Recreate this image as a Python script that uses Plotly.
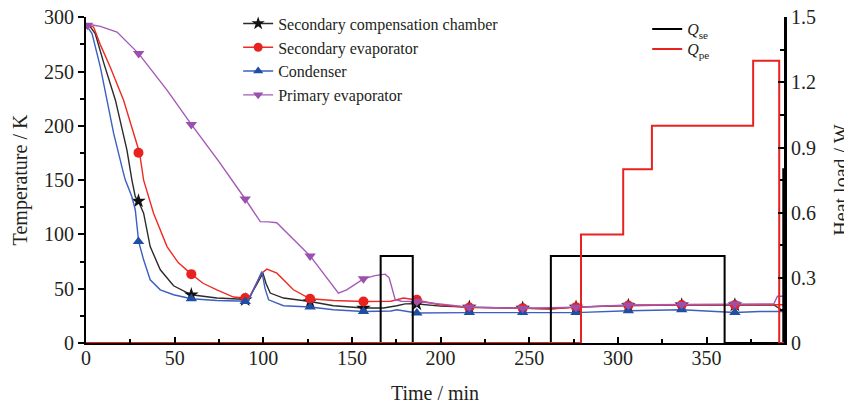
import plotly.graph_objects as go

# ---------------- data ----------------
# Secondary compensation chamber (line)
scc_t = [0, 2, 5.2, 10, 16.6, 20, 23.1, 25.9, 27.8, 29.5, 32.5, 36.2, 41.9, 49.4, 59.4, 73.8, 89.8, 91.5, 99.8, 101.5,
         103.9, 111.4, 126.4, 139.6, 156.5, 167.8, 175.3, 180, 185.6, 200, 216.2, 246.3, 262, 276.4, 305.9, 336, 366,
         388, 393.7]
scc_T = [293, 292, 285, 258, 223.6, 200, 177.7, 150, 134.7, 130.7, 119.5, 88.8, 67.4, 52.7, 44.4, 41.4, 39.8, 40, 64.3, 55,
         46, 41.4, 38.2, 34.3, 32.2, 32.2, 34.3, 36, 36.1, 34, 33, 32, 31.5, 33, 34.5, 35, 35, 35, 29]

# Secondary evaporator (line)
se_t = [0, 4.3, 8, 13.7, 21.2, 26.8, 30.2, 32.5, 38.1, 45.7, 52, 59.4, 66, 73.8, 83.2, 89.8, 92, 99, 102, 107.7, 117,
        126.4, 139.6, 156.5, 167.8, 172, 179, 185.6, 200, 216.2, 246.3, 261.7, 276.4, 305.9, 336, 366, 393.7]
se_T = [293, 291, 275, 254, 223.6, 193, 175.2, 150, 119.5, 88.8, 74, 63.4, 55, 49, 42.3, 41.4, 41.5, 64, 68, 64.3, 49,
        40.7, 39.2, 38.2, 38.2, 38.5, 41.4, 39.8, 35, 32.7, 32.1, 31.2, 33, 34.6, 35, 35, 35.2]

# Condenser (line)
cd_t = [0, 3.4, 8.1, 15.6, 21.2, 22.2, 25.9, 27.8, 29.7, 32.5, 36.2, 41.9, 49.4, 59.4, 73.8, 89.8, 91.5, 99.2, 101,
        103, 111.4, 126.4, 139.6, 156.5, 167.8, 172, 175.3, 180, 186.6, 216.2, 246.3, 276.4, 305.9, 336, 366, 380, 393.7]
cd_T = [293, 285, 254, 193, 156, 150, 134.7, 122.5, 93.4, 76.6, 58.2, 49, 44.4, 40.7, 39.2, 38.2, 38.5, 65.8, 50,
        39.8, 34.3, 33.1, 30.6, 29, 29, 29.5, 30.6, 29.5, 27.6, 28, 28, 28, 29.7, 30.6, 28.1, 29, 29]

# Primary evaporator (line)
pe_t = [0, 3, 8.1, 17.5, 29.7, 45.7, 59.4, 75, 89.8, 98.3, 103, 107.6, 126.4, 138, 142.4, 147, 156.5, 163, 168.7, 171,
        174.4, 178, 186.6, 216.2, 246.3, 276.4, 305.9, 336, 366, 388, 390, 393.7]
pe_T = [293, 293, 291.6, 286.4, 266.5, 232.8, 201.3, 167, 132.6, 111.8, 111.5, 110.8, 80.2, 55, 46, 49, 59.1, 62, 63.4,
        60, 39.8, 38.5, 38.2, 33, 32, 33, 35, 35.5, 36, 36, 43, 43]

# marker positions
mk_t = [29.6, 59.4, 89.8, 126.4, 156.5, 186.6, 216.2, 246.3, 276.4, 305.9, 336, 366]
scc_mT = [130.7, 44.4, 39.8, 38.2, 32.2, 36, 33, 32, 33, 34.5, 35, 35]
se_mT = [175.2, 63.4, 41.4, 40.7, 38.2, 39.8, 32.7, 32.1, 33, 34.6, 35, 35]
cd_mT = [93.4, 40.7, 38.2, 33.1, 29, 27.6, 28, 28, 28, 29.7, 30.6, 28.1]
pe_mk_t = [0.9, 29.7, 59.4, 89.8, 126.4, 156.5, 186.6, 216.2, 246.3, 276.4, 305.9, 336, 366]
pe_mT = [292.5, 266.5, 201.3, 132.6, 80.2, 59.1, 38.2, 33, 32, 33, 35, 35.5, 36]

# heat loads (step)
qse_t = [0, 166.2, 184.3, 262.2, 360.2, 393.3, 393.7]
qse_W = [0, 0.4, 0, 0.4, 0, 0.8, 0.8]
qpe_t = [0, 279.2, 303.0, 319.2, 376.3, 391.0, 393.7]
qpe_W = [0, 0.5, 0.8, 1.0, 1.3, 0, 0]

names = ["Secondary compensation chamber", "Secondary evaporator", "Condenser", "Primary evaporator"]

# ---------------- styling ----------------
FONT = "Liberation Serif"
TXT = "#231f20"
c_black, c_red, c_blue, c_purple = "#2b2b2b", "#ee2a24", "#3b5fc2", "#a45ab8"
mc_black, mc_red, mc_blue, mc_purple = "#111111", "#e8231f", "#1f4fa3", "#9b4fae"

fig = go.Figure()

series = [
    (scc_t, scc_T, mk_t, scc_mT, c_black, mc_black, "star", 11),
    (se_t, se_T, mk_t, se_mT, c_red, mc_red, "circle", 10),
    (cd_t, cd_T, mk_t, cd_mT, c_blue, mc_blue, "triangle-up", 10),
    (pe_t, pe_T, pe_mk_t, pe_mT, c_purple, mc_purple, "triangle-down", 10),
]

for name, (lt, lT, mt, mT, lc, mc, sym, ms) in zip(names, series):
    fig.add_trace(go.Scatter(x=lt, y=lT, mode="lines", line=dict(color=lc, width=1.4),
                             showlegend=False, hoverinfo="skip"))
    fig.add_trace(go.Scatter(x=mt, y=mT, mode="markers", marker=dict(symbol=sym, size=ms, color=mc),
                             showlegend=False))
    fig.add_trace(go.Scatter(x=[None], y=[None], mode="lines+markers", name=name,
                             line=dict(color=lc, width=1.4), marker=dict(symbol=sym, size=ms - 1, color=mc),
                             legend="legend"))

fig.add_trace(go.Scatter(x=qse_t, y=qse_W, mode="lines", line=dict(color="#000000", width=2, shape="hv"),
                         name="<i>Q</i><sub>se</sub>", yaxis="y2", legend="legend2"))
fig.add_trace(go.Scatter(x=qpe_t, y=qpe_W, mode="lines", line=dict(color="#e8231f", width=2, shape="hv"),
                         name="<i>Q</i><sub>pe</sub>", yaxis="y2", legend="legend3"))

axis_common = dict(showgrid=False, zeroline=False, linecolor="#000000", tickcolor="#000000",
                   ticklabeloverflow="allow",
                   tickfont=dict(family=FONT, size=20, color=TXT))

# the page body has an 8 px margin, so the figure is 8 px smaller and margins shifted
fig.update_layout(
    width=844, height=396,
    margin=dict(l=78, r=68, t=9, b=61, autoexpand=False),
    paper_bgcolor="white", plot_bgcolor="white",
    font=dict(family=FONT, color=TXT),
    xaxis=dict(range=[0, 393.7], dtick=50, tick0=0, ticks="inside", ticklen=6, tickwidth=1.5,
               showline=True, linewidth=2, ticklabelstandoff=-4,
               minor=dict(ticks="inside", dtick=25, ticklen=4, tickwidth=1.5, tickcolor="#000000"),
               title=dict(text="Time / min", font=dict(family=FONT, size=20, color=TXT), standoff=19),
               **axis_common),
    yaxis=dict(range=[0, 300.2], dtick=50, tick0=0, ticks="outside", ticklen=6, tickwidth=1.5,
               showline=True, linewidth=2,
               minor=dict(ticks="outside", dtick=25, ticklen=4, tickwidth=1.5, tickcolor="#000000"),
               title=dict(text="Temperature / K", font=dict(family=FONT, size=20, color=TXT), standoff=11),
               **axis_common),
    yaxis2=dict(range=[0, 1.501], dtick=0.3, tick0=0, ticks="inside", ticklen=6, tickwidth=1.5,
                overlaying="y", side="right", showline=True, linewidth=3,
                minor=dict(ticks="inside", dtick=0.15, ticklen=4, tickwidth=1.5, tickcolor="#000000"),
                title=dict(text="Heat load / W", font=dict(family=FONT, size=20, color=TXT), standoff=24),
                **axis_common),
    legend=dict(x=0.218, y=1.032, xanchor="left", yanchor="top", bgcolor="rgba(0,0,0,0)",
                font=dict(family=FONT, size=16, color=TXT), tracegroupgap=0, itemwidth=30),
    legend2=dict(x=0.804, y=1.015, xanchor="left", yanchor="top", bgcolor="rgba(0,0,0,0)",
                 font=dict(family=FONT, size=16, color=TXT), tracegroupgap=0, itemwidth=30),
    legend3=dict(x=0.804, y=0.954, xanchor="left", yanchor="top", bgcolor="rgba(0,0,0,0)",
                 font=dict(family=FONT, size=16, color=TXT), tracegroupgap=0, itemwidth=30),
    showlegend=True,
)

fig.write_html("out.html")
